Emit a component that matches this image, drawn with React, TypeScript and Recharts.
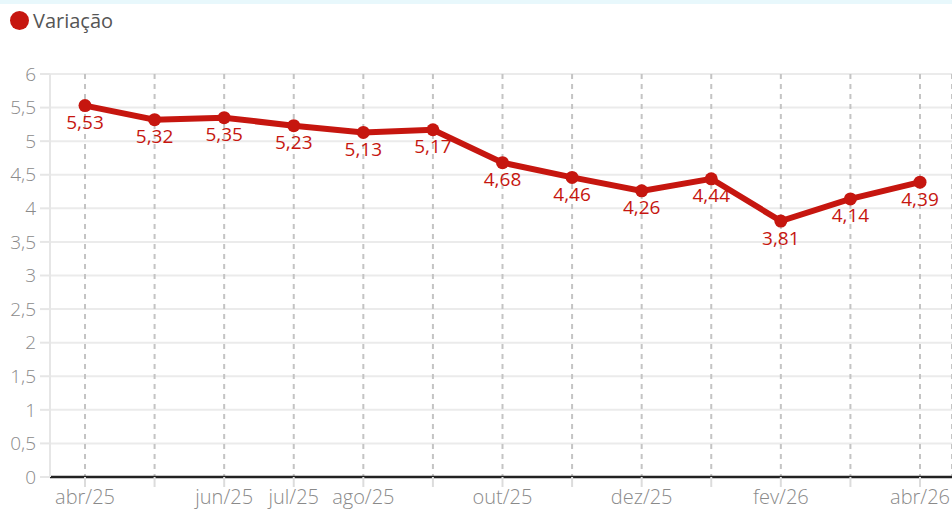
import React from "react";
import {
  LineChart, Line, XAxis, YAxis, CartesianGrid, LabelList,
} from "recharts";

const months = [
  "abr/25", "mai/25", "jun/25", "jul/25", "ago/25", "set/25", "out/25",
  "nov/25", "dez/25", "jan/26", "fev/26", "mar/26", "abr/26",
];
const variacao = [5.53, 5.32, 5.35, 5.23, 5.13, 5.17, 4.68, 4.46, 4.26, 4.44, 3.81, 4.14, 4.39];
const shownMonths = ["abr/25", "jun/25", "jul/25", "ago/25", "out/25", "dez/25", "fev/26", "abr/26"];
const yTicks = [0, 0.5, 1, 1.5, 2, 2.5, 3, 3.5, 4, 4.5, 5, 5.5, 6];

const RED = "#c6160f";
const FONT = "'Open Sans', 'Noto Sans', sans-serif";

const data = months.map((m, i) => ({ month: m, value: variacao[i] }));

const comma = (v: number) => String(v).replace(".", ",");

export default function App() {
  return (
    <div style={{ position: "absolute", left: 0, top: 0, width: 952, height: 513, background: "#fff", fontFamily: FONT }}>
      <div style={{ position: "absolute", left: 0, top: 0, width: 952, height: 4, background: "#e8f8fc" }} />
      <div style={{ position: "absolute", left: 10, top: 7, display: "flex", alignItems: "center" }}>
        <span style={{ width: 19, height: 19, borderRadius: "50%", background: RED, display: "inline-block" }} />
        <span style={{ marginLeft: 4, fontSize: 20, color: "#555" }}>Variação</span>
      </div>
      <LineChart
        width={952}
        height={513}
        data={data}
        margin={{ top: 74, right: 0, left: 0, bottom: 0 }}
        style={{ fontFamily: FONT }}
      >
        <CartesianGrid horizontal vertical={false} stroke="#ebebeb" strokeWidth={2} />
        <CartesianGrid horizontal={false} vertical stroke="#c4c4c4" strokeDasharray="5 5" strokeWidth={2} />
        <XAxis
          dataKey="month"
          interval={0}
          padding={{ left: 35, right: 32 }}
          height={36}
          axisLine={{ stroke: "#222", strokeWidth: 2.5 }}
          tickLine={{ stroke: "#dcdcdc", strokeWidth: 2 }}
          tickSize={10}
          tickMargin={3}
          tick={{ fill: "#8a8a8a", fontSize: 20, fontWeight: 300 }}
          tickFormatter={(m: string) => (shownMonths.includes(m) ? m : "")}
        />
        <YAxis
          domain={[0, 6]}
          ticks={yTicks}
          width={50}
          axisLine={{ stroke: "#e6e6e6", strokeWidth: 2 }}
          tickLine={{ stroke: "#e6e6e6", strokeWidth: 2 }}
          tickSize={10}
          tickMargin={4}
          tick={{ fill: "#8a8a8a", fontSize: 19, fontWeight: 300 }}
          tickFormatter={comma}
        />
        <Line
          type="linear"
          dataKey="value"
          stroke={RED}
          strokeWidth={6}
          dot={{ r: 6.5, fill: RED, stroke: RED, strokeWidth: 0 }}
          isAnimationActive={false}
        >
          <LabelList
            dataKey="value"
            position="bottom"
            offset={10}
            fill={RED}
            fontSize={19}
            formatter={(v: number) => comma(v)}
          />
        </Line>
      </LineChart>
    </div>
  );
}
